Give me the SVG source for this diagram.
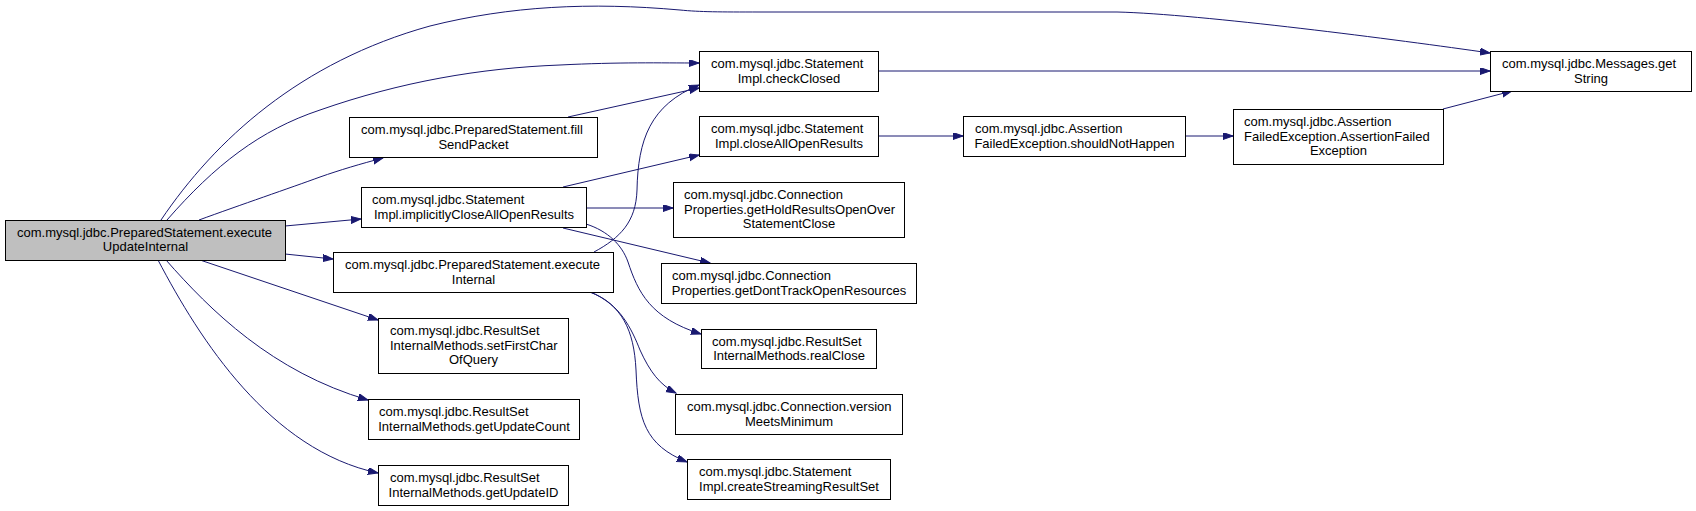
<svg xmlns="http://www.w3.org/2000/svg" width="1696" height="511" viewBox="0 0 1696 511">
<style>
  .box { fill: #ffffff; stroke: #000000; stroke-width: 1; }
  .root { fill: #bfbfbf; stroke: #000000; stroke-width: 1; }
  text { font-family: "Liberation Sans", Arial, sans-serif; font-size: 13px; fill: #000000; }
  .c { text-anchor: middle; }
  .e { fill: none; stroke: #191970; stroke-width: 1; marker-end: url(#arr); }
</style>
<defs>
  <marker id="arr" markerUnits="userSpaceOnUse" markerWidth="11" markerHeight="8" refX="10" refY="3.5" orient="auto">
    <path d="M0,0 L10,3.5 L0,7 z" fill="#191970" stroke="#191970" stroke-width="1"/>
  </marker>
</defs>
<rect x="0" y="0" width="1696" height="511" fill="#ffffff"/>
<g id="edges">
  <path class="e" d="M161,220 C215,140 300,62 430,26 C510,6 590,2 680,10 C700,12 720,12 760,12 L1117,12 C1200,14 1400,40 1490,53"/>
  <path class="e" d="M167,220 C215,165 260,130 320,110 C400,82 480,68 560,65 C620,62 660,63 699,63"/>
  <path class="e" d="M199,220 C240,205 290,188 320,177 C340,170 360,164 383,158"/>
  <path class="e" d="M285,226 L361,219"/>
  <path class="e" d="M285,254 L333,259"/>
  <path class="e" d="M200,260 L378,320"/>
  <path class="e" d="M166,260 C210,310 272,372 368,400"/>
  <path class="e" d="M158,260 C200,340 270,450 378,473"/>
  <path class="e" d="M568,117 L699,88"/>
  <path class="e" d="M594,252 C620,238 636,222 637,190 C638,140 650,105 699,85"/>
  <path class="e" d="M563,187 L699,155"/>
  <path class="e" d="M586,208 L673,208"/>
  <path class="e" d="M563,228 L710,263"/>
  <path class="e" d="M586,224 C608,231 622,245 628,262 C638,292 650,318 701,334"/>
  <path class="e" d="M590,292 C620,303 632,330 640,350 C650,372 660,385 676,393"/>
  <path class="e" d="M590,292 C622,305 634,330 636,370 C638,420 645,445 687,462"/>
  <path class="e" d="M878,71 L1490,71"/>
  <path class="e" d="M878,136 L963,136"/>
  <path class="e" d="M1185,136 L1233,136"/>
  <path class="e" d="M1443,109 L1512,91"/>
</g>
<g id="n_root">
  <rect class="root" x="5.5" y="220.5" width="280" height="40"/>
  <text x="17" y="236.5">com.mysql.jdbc.PreparedStatement.execute</text>
  <text class="c" x="145.5" y="251">UpdateInternal</text>
</g>
<g id="n_fillSendPacket">
  <rect class="box" x="349.5" y="117.5" width="248" height="40"/>
  <text x="361" y="134">com.mysql.jdbc.PreparedStatement.fill</text>
  <text class="c" x="473.5" y="148.5">SendPacket</text>
</g>
<g id="n_implicitlyClose">
  <rect class="box" x="361.5" y="187.5" width="225" height="40"/>
  <text x="372" y="204">com.mysql.jdbc.Statement</text>
  <text class="c" x="474" y="218.5">Impl.implicitlyCloseAllOpenResults</text>
</g>
<g id="n_executeInternal">
  <rect class="box" x="333.5" y="252.5" width="280" height="40"/>
  <text x="345" y="269">com.mysql.jdbc.PreparedStatement.execute</text>
  <text class="c" x="473.5" y="283.5">Internal</text>
</g>
<g id="n_setFirstChar">
  <rect class="box" x="378.5" y="318.5" width="190" height="55"/>
  <text x="390" y="335">com.mysql.jdbc.ResultSet</text>
  <text x="390" y="349.5">InternalMethods.setFirstChar</text>
  <text class="c" x="473.5" y="364">OfQuery</text>
</g>
<g id="n_getUpdateCount">
  <rect class="box" x="368.5" y="399.5" width="211" height="40"/>
  <text x="379" y="416">com.mysql.jdbc.ResultSet</text>
  <text class="c" x="474" y="430.5">InternalMethods.getUpdateCount</text>
</g>
<g id="n_getUpdateID">
  <rect class="box" x="378.5" y="465.5" width="190" height="40"/>
  <text x="390" y="482">com.mysql.jdbc.ResultSet</text>
  <text class="c" x="473.5" y="496.5">InternalMethods.getUpdateID</text>
</g>
<g id="n_checkClosed">
  <rect class="box" x="699.5" y="51.5" width="179" height="40"/>
  <text x="711" y="68">com.mysql.jdbc.Statement</text>
  <text class="c" x="789" y="82.5">Impl.checkClosed</text>
</g>
<g id="n_closeAllOpenResults">
  <rect class="box" x="699.5" y="116.5" width="179" height="40"/>
  <text x="711" y="133">com.mysql.jdbc.Statement</text>
  <text class="c" x="789" y="147.5">Impl.closeAllOpenResults</text>
</g>
<g id="n_getHoldResults">
  <rect class="box" x="673.5" y="182.5" width="231" height="55"/>
  <text x="684" y="199">com.mysql.jdbc.Connection</text>
  <text x="684" y="213.5">Properties.getHoldResultsOpenOver</text>
  <text class="c" x="789" y="228">StatementClose</text>
</g>
<g id="n_getDontTrack">
  <rect class="box" x="661.5" y="263.5" width="255" height="40"/>
  <text x="672" y="280">com.mysql.jdbc.Connection</text>
  <text class="c" x="789" y="294.5">Properties.getDontTrackOpenResources</text>
</g>
<g id="n_realClose">
  <rect class="box" x="701.5" y="329.5" width="175" height="39"/>
  <text x="712" y="345.5">com.mysql.jdbc.ResultSet</text>
  <text class="c" x="789" y="360">InternalMethods.realClose</text>
</g>
<g id="n_versionMeets">
  <rect class="box" x="675.5" y="394.5" width="227" height="40"/>
  <text x="687" y="411">com.mysql.jdbc.Connection.version</text>
  <text class="c" x="789" y="425.5">MeetsMinimum</text>
</g>
<g id="n_createStreaming">
  <rect class="box" x="687.5" y="459.5" width="203" height="40"/>
  <text x="699" y="476">com.mysql.jdbc.Statement</text>
  <text class="c" x="789" y="490.5">Impl.createStreamingResultSet</text>
</g>
<g id="n_shouldNotHappen">
  <rect class="box" x="963.5" y="116.5" width="222" height="40"/>
  <text x="975" y="133">com.mysql.jdbc.Assertion</text>
  <text class="c" x="1074.5" y="147.5">FailedException.shouldNotHappen</text>
</g>
<g id="n_assertionFailedException">
  <rect class="box" x="1233.5" y="109.5" width="210" height="55"/>
  <text x="1244" y="126">com.mysql.jdbc.Assertion</text>
  <text x="1244" y="140.5">FailedException.AssertionFailed</text>
  <text class="c" x="1338.5" y="155">Exception</text>
</g>
<g id="n_getString">
  <rect class="box" x="1490.5" y="51.5" width="201" height="40"/>
  <text x="1502" y="68">com.mysql.jdbc.Messages.get</text>
  <text class="c" x="1591" y="82.5">String</text>
</g>
</svg>
